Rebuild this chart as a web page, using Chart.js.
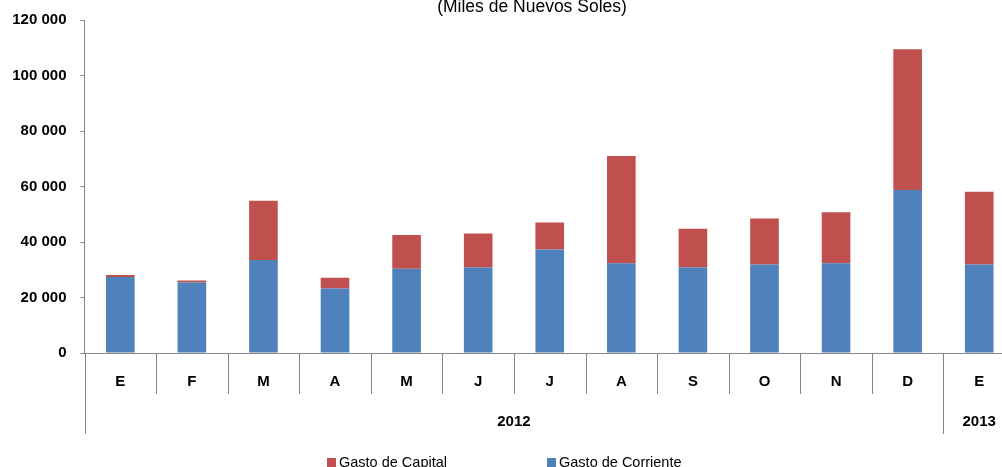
<!DOCTYPE html>
<html>
<head>
<meta charset="utf-8">
<script src="https://cdn.jsdelivr.net/npm/chart.js@4/dist/chart.umd.min.js"></script>
<style>
  html, body { margin: 0; padding: 0; background: #fff; overflow: hidden; }
  #wrap { position: absolute; left: 0; top: -3px; width: 1030px; height: 470px; }
</style>
</head>
<body>
<div id="wrap"><canvas id="c" width="1030" height="470"></canvas></div>
<script>
// ---- data ----
const months = ['E', 'F', 'M', 'A', 'M', 'J', 'J', 'A', 'S', 'O', 'N', 'D', 'E'];
const gastoCorriente = [27400, 25400, 33500, 23200, 30400, 30800, 37300, 32300, 30800, 31900, 32300, 58700, 31900];
const gastoCapital   = [700, 700, 21400, 3900, 12100, 12300, 9700, 38700, 14000, 16600, 18400, 50800, 26200];
const years = ['2012', '2013'];
const yearSpans = [12, 1];
const yMax = 120000;
const yStep = 20000;
const titleText = '(Miles de Nuevos Soles)';

const AXIS_GREY = '#868686';
const BOLD = { family: 'Liberation Sans, Arial, sans-serif', size: 15, weight: 'bold' };

function fmt(v) {
  return String(v).replace(/\B(?=(\d{3})+(?!\d))/g, ' ');
}

const tablePlugin = {
  id: 'xTable',
  afterDraw(chart) {
    const ctx = chart.ctx;
    const xs = chart.scales.x;
    const area = chart.chartArea;
    const n = months.length;
    const half = (xs.getPixelForValue(1) - xs.getPixelForValue(0)) / 2;
    const edge = i => (i < n ? xs.getPixelForValue(i) - half : xs.getPixelForValue(n - 1) + half);
    const y0 = area.bottom;
    ctx.save();
    ctx.strokeStyle = AXIS_GREY;
    ctx.lineWidth = 1;
    for (let i = 0; i <= n; i++) {
      const x = Math.round(edge(i)) + 0.5;
      ctx.beginPath();
      ctx.moveTo(x, y0);
      ctx.lineTo(x, y0 + 41);
      ctx.stroke();
    }
    let idx = 0;
    ctx.fillStyle = '#000';
    ctx.font = 'bold 15px "Liberation Sans", Arial, sans-serif';
    ctx.textAlign = 'center';
    ctx.textBaseline = 'middle';
    const bounds = [0];
    yearSpans.forEach(s => { idx += s; bounds.push(idx); });
    bounds.forEach(b => {
      const x = Math.round(edge(b)) + 0.5;
      ctx.beginPath();
      ctx.moveTo(x, y0);
      ctx.lineTo(x, y0 + 81);
      ctx.stroke();
    });
    years.forEach((yr, k) => {
      const cx = (edge(bounds[k]) + edge(bounds[k + 1])) / 2;
      ctx.fillText(yr, cx, y0 + 69);
    });
    ctx.restore();
  }
};

const titleLegendPlugin = {
  id: 'titleLegend',
  afterDraw(chart) {
    const ctx = chart.ctx;
    ctx.save();
    ctx.fillStyle = '#000';
    ctx.font = '17.5px "Liberation Sans", Arial, sans-serif';
    ctx.textAlign = 'center';
    ctx.textBaseline = 'alphabetic';
    ctx.fillText(titleText, 532, 15);
    ctx.font = '14.5px "Liberation Sans", Arial, sans-serif';
    ctx.textAlign = 'left';
    let x = 327;
    const ds = chart.data.datasets.slice().reverse();
    ds.forEach(d => {
      ctx.fillStyle = d.backgroundColor;
      ctx.fillRect(x, 461, 9, 9);
      ctx.fillStyle = '#000';
      ctx.fillText(d.label, x + 12, 470);
      x += 12 + ctx.measureText(d.label).width + 100;
    });
    ctx.restore();
  }
};

new Chart(document.getElementById('c'), {
  type: 'bar',
  data: {
    labels: months,
    datasets: [
      { label: 'Gasto de Corriente', data: gastoCorriente, backgroundColor: '#4F81BD', borderWidth: 0 },
      { label: 'Gasto de Capital', data: gastoCapital, backgroundColor: '#C0504D', borderWidth: 0 }
    ]
  },
  options: {
    responsive: false,
    animation: false,
    layout: { padding: { left: 11, right: 15, top: 4, bottom: 0 } },
    plugins: { legend: { display: false }, title: { display: false }, tooltip: { enabled: false } },
    datasets: { bar: { categoryPercentage: 1.0, barPercentage: 0.4 } },
    scales: {
      x: {
        stacked: true,
        grid: { display: false },
        border: { display: true, color: AXIS_GREY, width: 1 },
        ticks: { color: '#000', font: BOLD, padding: 11.5, maxRotation: 0, autoSkip: false },
        afterFit: s => { s.height = 114; }
      },
      y: {
        stacked: true,
        min: 0,
        max: yMax,
        grid: { display: true, drawOnChartArea: false, drawTicks: true, tickLength: 4, color: AXIS_GREY },
        border: { display: true, color: AXIS_GREY, width: 1 },
        ticks: { stepSize: yStep, color: '#000', font: BOLD, padding: 14, callback: v => fmt(v) },
        afterFit: s => { s.width = 73.5; }
      }
    }
  },
  plugins: [tablePlugin, titleLegendPlugin]
});
</script>
</body>
</html>
